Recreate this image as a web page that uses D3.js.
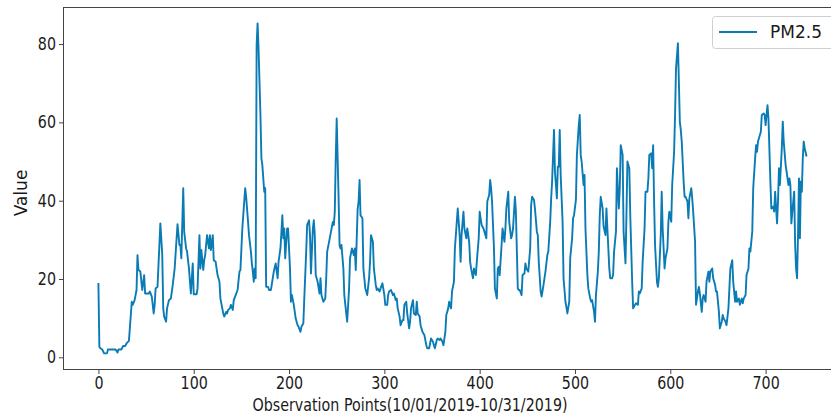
<!DOCTYPE html>
<html><head><meta charset="utf-8">
<script src="https://cdn.jsdelivr.net/npm/d3@7"></script>
<style>
body{margin:0;background:#fff;}
text{font-family:"DejaVu Sans",sans-serif;fill:#1a1a1a;}
</style></head>
<body><svg id="c" width="831" height="416"></svg>
<script>
// observation index (hour) of each read vertex
const obsIndex = [0,1,2,4,6,9,10,18,20,21,24,26,28,30,32,34,35,36,38,40,41,42,44,46,48,49,53,54,56,58,59,60,62,65,67,68,69,71,72,74,76,78,80,83,85,86,87,89,90,92,93,95,97,99,100,103,104,106,107,108,110,111,112,114,116,117,118,120,121,123,125,127,128,131,132,134,135,136,138,139,141,142,144,146,148,149,151,154,155,157,158,160,161,162,163,164,165,166,167,168,170,171,172,174,175,176,178,179,181,
184,186,188,189,191,193,194,195,196,198,199,201,202,203,205,207,209,210,212,213,215,216,218,219,221,222,223,225,226,227,228,230,232,233,234,236,238,239,240,242,244,246,247,248,249,250,252,253,254,255,257,258,260,261,263,264,266,268,269,270,272,273,274,275,277,278,280,281,282,284,285,286,288,289,291,292,293,295,296,298,300,301,303,304,305,307,309,310,312,313,314,316,317,319,320,321,323,324,326,327,328,330,331,333,334,335,337,338,340,341,342,344,345,347,348,349,351,352,353,355,356,358,359,361,362,364,365,367,368,
370,371,373,374,376,377,379,380,381,383,384,386,387,389,390,391,393,394,396,397,399,400,402,404,405,407,408,410,411,412,413,415,416,418,419,420,421,423,424,426,427,428,430,431,433,434,435,437,438,440,441,442,444,445,447,448,449,451,453,454,455,457,458,460,461,462,464,465,467,468,469,471,472,474,475,476,478,479,481,482,483,484,485,487,488,490,491,492,494,495,497,498,499,501,502,504,505,506,507,509,510,511,513,514,516,517,518,520,521,522,524,525,526,527,529,530,532,533,534,536,537,539,540,541,543,544,546,547,548,550,551,553,554,
555,557,558,560,561,563,564,566,567,568,570,571,573,574,576,577,578,580,581,582,583,584,586,587,588,590,591,592,594,595,597,598,599,601,602,604,605,606,608,609,610,611,612,613,614,615,616,618,619,620,622,623,624,626,627,629,630,631,633,634,635,637,638,640,641,642,644,645,647,648,649,651,652,654,655,656,658,659,661,662,663,665,666,668,669,670,672,673,675,676,677,679,680,682,683,684,686,687,689,690,691,692,694,695,696,698,699,700,701,702,703,705,706,708,709,710,712,713,714,715,717,718,719,721,722,724,725,726,727,729,730,731,732,733,734,735,736,737,738,739,740,741,743];
// PM2.5 value at each vertex
const pm25 = [19,2.7,2.3,2.0,1.0,1.0,2,2,1.2,2,2,2.9,2.9,3.7,4.2,10.8,14.2,13.4,14.6,17.2,26.1,22.3,21.9,17.2,21,16.3,16.3,16.8,15.5,11.2,13.4,17.6,18,34.2,26.1,12.5,10.4,9.1,12.5,14.6,15,18.5,22.7,34,28.7,28.7,25.3,43.2,32.1,27.8,27,22.7,16.3,24,16.1,16.1,17.6,31.2,22.7,27.4,22.3,24.8,26.1,31.2,27.8,31.2,27.4,31.2,24.8,24.4,21,19.3,15,11.2,10.4,11.6,11.2,12.1,12.5,13.4,12.1,14.6,15.9,17.2,21.9,22.3,32.9,43.2,41,34.6,31.2,27,24,21.9,19.3,22.7,20.2,79.8,85.3,78.9,61.9,50.8,49.1,42.3,43.2,18,18,17.2,17.2,
21.9,24,20.2,24.4,27.8,36.3,30.4,32.9,25.3,32.9,32.9,22.7,14.2,15.9,13.4,9.9,8.2,7.8,6.5,7.8,8.7,15,27,33.8,35,31.2,21.4,32.9,35,31.2,21,19.3,16.3,20.2,15.9,14.2,15,20.2,27,29.5,32.1,34.6,33.8,37.2,50.8,61,40.6,28.7,27.8,28.7,22.7,15.9,11.2,9.1,17.6,25.3,27.8,26.1,27.8,22.3,38,39.8,45.3,36.3,35.5,22.7,17.6,16.8,15.9,20.2,24.4,31.2,29.5,22.7,18.5,17.2,17.6,16.8,17.6,18.9,15.9,13.4,13.4,15.9,16.8,17.2,15.9,16.3,14.6,15,12.5,10.4,8.2,9.5,9.5,13.4,14.2,11.2,7.4,9.1,12.5,14.6,11.2,10.8,14.2,11.2,10.4,8.2,6.5,6.1,5.7,3.1,2.3,2.3,3.6,4.8,4.0,3.1,2.3,4.4,4.8,4.4,4.8,4.0,3.1,6.5,10.8,12.5,14.2,
12.5,16.8,19.3,27.8,34.6,38,31.2,24.4,31.2,37.2,32.9,30.4,32.9,29.5,24.4,22.7,20.2,22.7,21,24.4,30.4,37.2,33.8,32.9,32.1,30.4,39.8,41.5,45.3,43.2,39.8,27.8,17.6,15,22.7,23.1,21,28.7,32.9,29.5,32.9,38,42.3,34.6,30.4,31.2,32.9,41,37.2,17.6,17.2,17.2,15.9,21,21.4,24,22.7,21.9,27.8,38.9,41,40.2,38,32.1,31.2,24.4,16.8,15.5,18.5,20.2,21.9,26.1,27,34.6,40.6,44.9,58.1,47.4,40.6,48.7,48.7,58.1,46.6,34.6,20.2,14.2,12.9,11.2,14.2,25.3,30.4,35.5,36.3,40.2,51.7,59.3,61.9,51.7,50,44,46.6,32.9,21,17.6,15,14.2,14.6,11.6,9.1,15.9,21.9,27,36.3,41,38,33.4,31.2,38,32.9,22.7,20.2,20.2,21,27,32.1,48.3,38,43.2,54.2,51.7,32.1,24,36.3,
50,48.3,36.3,19.3,12.5,13.4,13.8,13.4,16.8,16.3,17.6,24.4,32.9,42.3,42.3,45.7,51.7,52.1,48.3,54.2,39.8,28.7,19.3,18,20.2,31.2,42.3,32.9,22.7,25.3,27.8,34.6,37.2,34.6,44,52.5,61.9,73.8,80.2,70.4,60.2,58.1,55.1,50,44.9,41,41,39.8,35.5,40.6,43.2,40.6,37.2,29.5,13.4,16.8,18,16.3,11.6,15,15.9,14.2,19.3,21.9,19.3,21.9,22.7,20.2,18.5,16.8,16.8,11.6,7.4,9.1,10.8,9.9,9.1,8.2,12.5,17.6,22.7,24.8,19.3,14.2,16.8,14.2,15,13.4,15,13.8,15,15.9,21,22.7,27.8,27,32.1,43.2,50.8,54.2,52.5,55.1,56.8,57.6,61.9,62.3,61.9,59.3,61.9,64.4,61,44.9,38,38.5,37.2,42.3,34.2,39.8,48.3,44,53.4,60.2,55.1,49.1,47.4,44,45.7,44,34.2,39.8,42.3,28.7,22.7,20.2,31.2,45.7,30.4,44.9,42.3,50.8,55.1,53.4,51.3];
const xTicks = [0,100,200,300,400,500,600,700];
const yTicks = [0,20,40,60,80];
const seriesName = "PM2.5";
const xTitle = "Observation Points(10/01/2019-10/31/2019)";
const yTitle = "Value";

const svg = d3.select("#c");
const L = 63, T = 7, R = 842, B = 370;
const x = d3.scaleLinear().domain([-37.15, 780.15]).range([L, R]);
const y = d3.scaleLinear().domain([-3.24, 89.47]).range([B, T]);
const color = "#0a7bb5";
const FS = 17, SX = 0.84;

svg.append("defs").append("clipPath").attr("id","clip")
  .append("rect").attr("x",L).attr("y",T).attr("width",R-L).attr("height",B-T);

const data = obsIndex.map((d,i)=>({i:d,v:pm25[i]}));
svg.append("path").datum(data)
  .attr("clip-path","url(#clip)")
  .attr("fill","none").attr("stroke",color).attr("stroke-width",1.9)
  .attr("stroke-linejoin","round")
  .attr("d", d3.line().x(d=>x(d.i)).y(d=>y(d.v)));

// axes
const xa = svg.append("g").attr("transform",`translate(0,${B})`)
  .call(d3.axisBottom(x).tickValues(xTicks).tickSize(4).tickSizeOuter(0).tickPadding(3));
const ya = svg.append("g").attr("transform",`translate(${L},0)`)
  .call(d3.axisLeft(y).tickValues(yTicks).tickSize(4).tickSizeOuter(0).tickPadding(3));
[xa,ya].forEach(g=>{
  g.select(".domain").remove();
  g.selectAll(".tick line").attr("stroke","#444");
  g.selectAll(".tick text").attr("font-family","DejaVu Sans").attr("font-size",FS).attr("fill","#1a1a1a");
});
xa.selectAll(".tick text").attr("transform",`scale(${SX},1)`);
ya.selectAll(".tick text").attr("x",-7/SX).attr("transform",`scale(${SX},1)`);
// frame
svg.append("rect").attr("x",L+0.5).attr("y",T+0.5).attr("width",R-L-1).attr("height",B-T-1)
  .attr("fill","none").attr("stroke","#444").attr("stroke-width",1);

svg.append("text").attr("transform",`translate(410,411) scale(${SX},1)`).attr("text-anchor","middle")
  .attr("font-size",FS).text(xTitle);
svg.append("text").attr("transform","translate(27,193) rotate(-90) scale(1,1)").attr("text-anchor","middle")
  .attr("font-size",FS).attr("textLength",null).text(yTitle);

// legend
const lg = svg.append("g");
lg.append("rect").attr("x",712.5).attr("y",16.5).attr("width",130).attr("height",32).attr("rx",3)
  .attr("fill","#fff").attr("stroke","#d0d0d0");
lg.append("line").attr("x1",719).attr("x2",757).attr("y1",32).attr("y2",32)
  .attr("stroke",color).attr("stroke-width",1.9);
lg.append("text").attr("x",770).attr("y",38).attr("font-size",FS).text(seriesName);
</script></body></html>
